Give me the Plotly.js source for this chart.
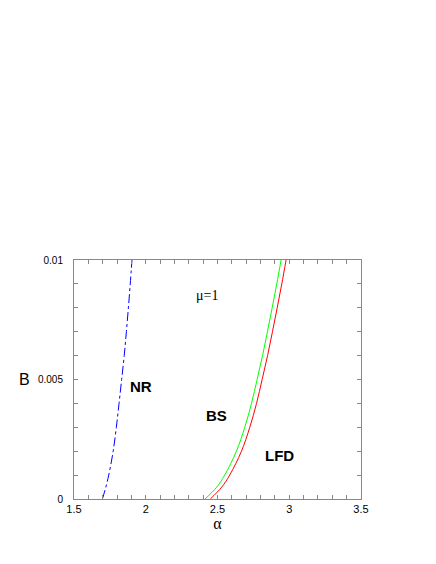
<!DOCTYPE html>
<html>
<head>
<meta charset="utf-8">
<script src="https://cdn.plot.ly/plotly-3.0.1.min.js"></script>
<style>
  body { margin: 0; background: #fff; }
  #tester { width: 436px; height: 564px; }
</style>
</head>
<body>
<div id="tester"></div>
<script>
// B values shared by all curves
let B = [0, 0.0005, 0.001, 0.002, 0.003, 0.004, 0.005, 0.006, 0.007, 0.008, 0.009, 0.01];

// alpha of each boundary
let alphaNR  = [1.698, 1.722, 1.742, 1.773, 1.795, 1.814, 1.832, 1.850, 1.865, 1.879, 1.892, 1.904];
let alphaBS  = [2.413, 2.495, 2.550, 2.632, 2.690, 2.737, 2.776, 2.814, 2.848, 2.881, 2.913, 2.943];
let alphaLFD = [2.450, 2.530, 2.585, 2.667, 2.725, 2.772, 2.811, 2.849, 2.883, 2.916, 2.948, 2.978];

let xTickVals = [1.5, 2, 2.5, 3, 3.5];
let xTickText = ['1.5', '2', '2.5', '3', '3.5'];
let yTickVals = [0, 0.005, 0.01];
let yTickText = ['0', '0.005', '0.01'];

let traceNR = {
    x: alphaNR,
    y: B,
    type: 'scatter',
    mode: 'lines',
    line: { color: '#0000ff', width: 1, dash: 'dashdot', shape: 'spline' },
    hoverinfo: 'skip'
};

let traceBS = {
    x: alphaBS,
    y: B,
    type: 'scatter',
    mode: 'lines',
    line: { color: '#00ff00', width: 1, shape: 'spline' },
    hoverinfo: 'skip'
};

let traceLFD = {
    x: alphaLFD,
    y: B,
    type: 'scatter',
    mode: 'lines',
    line: { color: '#ff0000', width: 1, shape: 'spline' },
    hoverinfo: 'skip'
};

let labelFont = { family: 'Liberation Sans, Arial, sans-serif', size: 15, color: '#000' };

let layout = {
    width: 436,
    height: 564,
    margin: { l: 74, r: 75, t: 260, b: 65 },
    paper_bgcolor: '#fff',
    plot_bgcolor: '#fff',
    showlegend: false,
    font: { family: 'Liberation Sans, Arial, sans-serif', size: 10, color: '#000' },
    xaxis: {
        range: [1.5, 3.5],
        tickmode: 'array',
        tickvals: xTickVals,
        ticktext: xTickText,
        ticks: 'inside',
        ticklen: 4,
        tickcolor: '#888',
        showgrid: false,
        zeroline: false,
        showline: true,
        linecolor: '#888',
        linewidth: 1,
        mirror: 'ticks',
        tickfont: { size: 11 },
        minor: { dtick: 0.1, ticks: 'inside', ticklen: 4, tickcolor: '#888', showgrid: false },
        title: { text: 'α', font: { family: 'Liberation Serif, serif', size: 16 }, standoff: 2 }
    },
    yaxis: {
        range: [0, 0.01],
        tickmode: 'array',
        tickvals: yTickVals,
        ticktext: yTickText,
        ticks: 'inside',
        ticklen: 4,
        tickcolor: '#888',
        showgrid: false,
        zeroline: false,
        showline: true,
        linecolor: '#888',
        linewidth: 1,
        mirror: 'ticks',
        ticklabelstandoff: 8,
        tickfont: { size: 10 },
        minor: { dtick: 0.001, ticks: 'inside', ticklen: 4, tickcolor: '#888', showgrid: false }
    },
    annotations: [
        { x: -0.171, y: 0.5, xref: 'paper', yref: 'paper', xanchor: 'center', yanchor: 'middle',
          text: 'B', showarrow: false,
          font: { family: 'Liberation Sans, Arial, sans-serif', size: 16, color: '#000' } },
        { x: 1.965, y: 0.0047, xref: 'x', yref: 'y', text: '<b>NR</b>', showarrow: false, font: labelFont },
        { x: 2.495, y: 0.0035, xref: 'x', yref: 'y', text: '<b>BS</b>', showarrow: false, font: labelFont },
        { x: 2.93, y: 0.0018, xref: 'x', yref: 'y', text: '<b>LFD</b>', showarrow: false, font: labelFont },
        { x: 2.43, y: 0.0085, xref: 'x', yref: 'y', text: 'μ=1', showarrow: false,
          font: { family: 'Liberation Serif, serif', size: 14, color: '#000' } }
    ]
};

Plotly.newPlot('tester', [traceNR, traceBS, traceLFD], layout, { staticPlot: true });
</script>
</body>
</html>
